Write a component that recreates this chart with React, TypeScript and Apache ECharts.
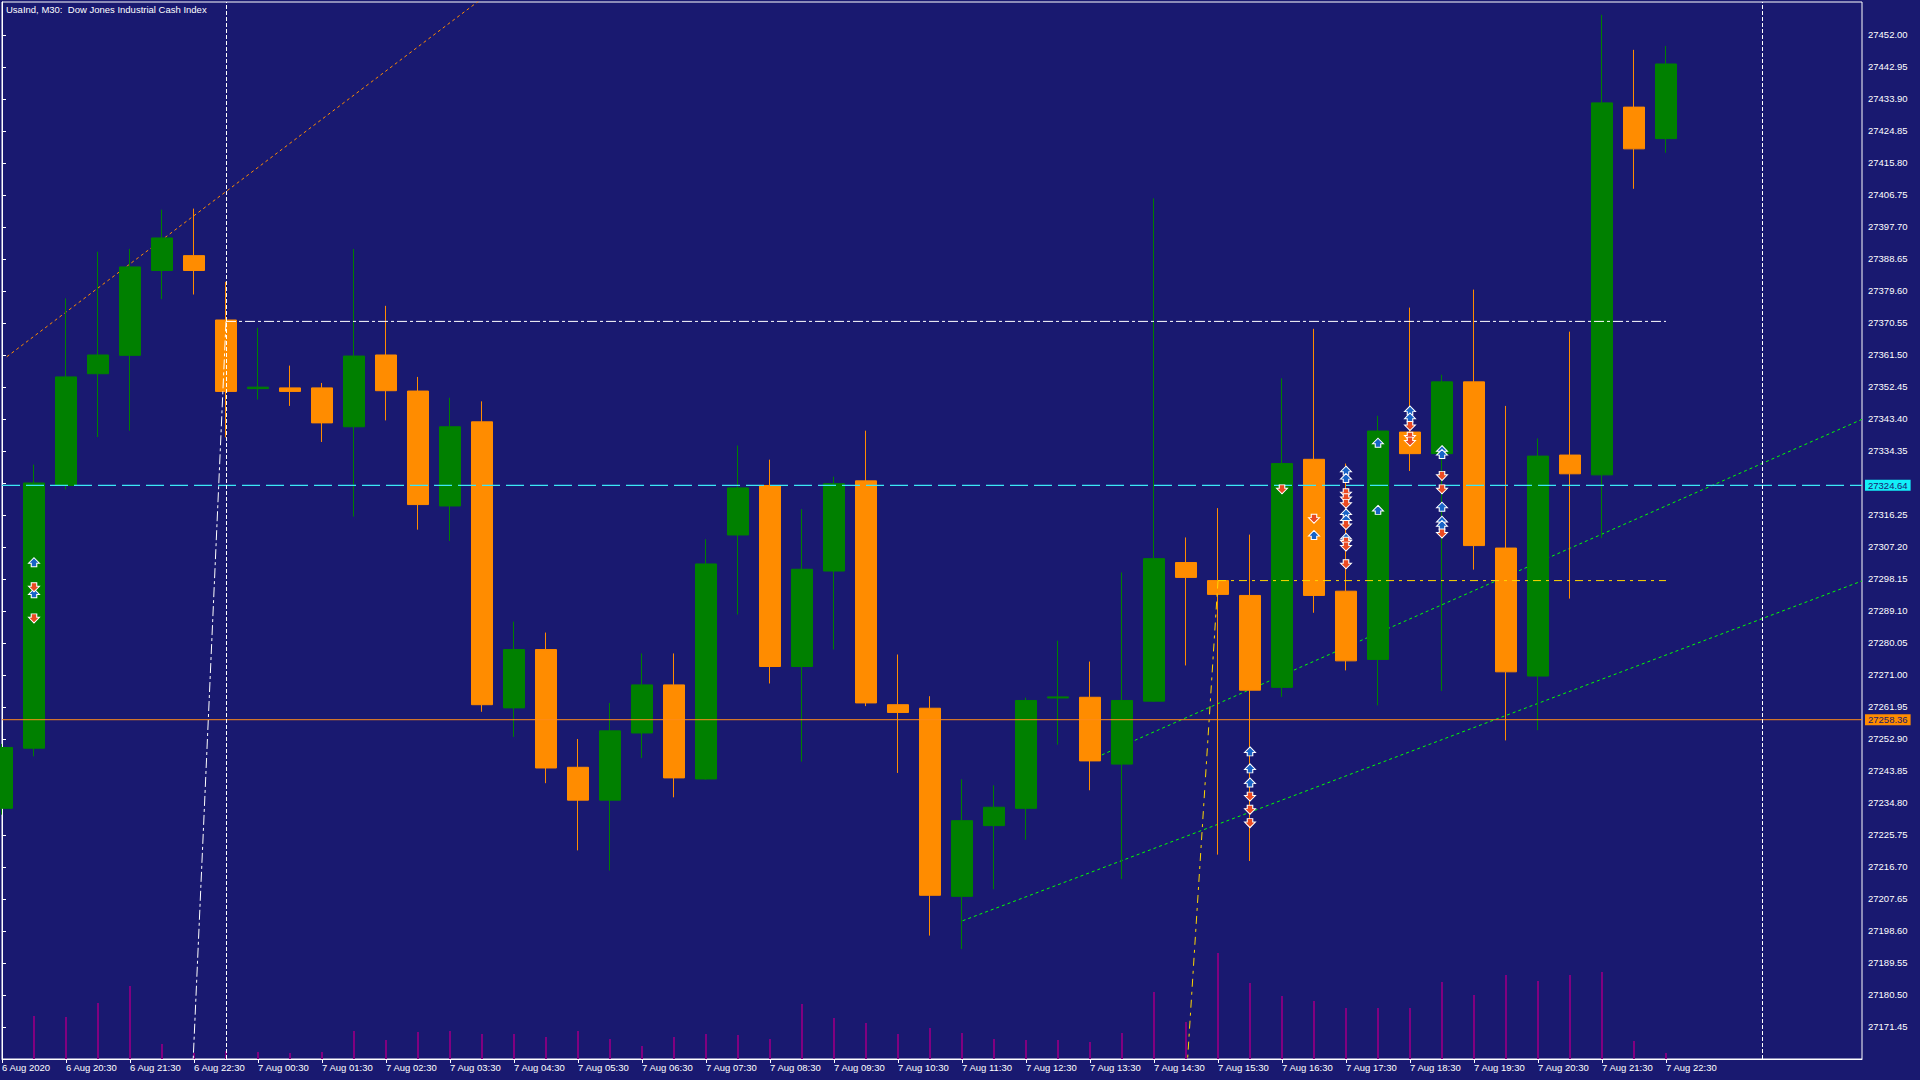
import React, { useEffect, useRef } from "react";
import * as echarts from "echarts";

// ---------- DATA ----------
const titleText = "UsaInd, M30:  Dow Jones Industrial Cash Index";

// one label every second M30 bar (bar index = 2 * label index)
const xLabels = [
  "6 Aug 2020", "6 Aug 20:30", "6 Aug 21:30", "6 Aug 22:30", "7 Aug 00:30",
  "7 Aug 01:30", "7 Aug 02:30", "7 Aug 03:30", "7 Aug 04:30", "7 Aug 05:30",
  "7 Aug 06:30", "7 Aug 07:30", "7 Aug 08:30", "7 Aug 09:30", "7 Aug 10:30",
  "7 Aug 11:30", "7 Aug 12:30", "7 Aug 13:30", "7 Aug 14:30", "7 Aug 15:30",
  "7 Aug 16:30", "7 Aug 17:30", "7 Aug 18:30", "7 Aug 19:30", "7 Aug 20:30",
  "7 Aug 21:30", "7 Aug 22:30",
];

const yTickLabels = [
  "27452.00", "27442.95", "27433.90", "27424.85", "27415.80", "27406.75",
  "27397.70", "27388.65", "27379.60", "27370.55", "27361.50", "27352.45",
  "27343.40", "27334.35", "27325.30", "27316.25", "27307.20", "27298.15",
  "27289.10", "27280.05", "27271.00", "27261.95", "27252.90", "27243.85",
  "27234.80", "27225.75", "27216.70", "27207.65", "27198.60", "27189.55",
  "27180.50", "27171.45",
];

const opens = [
  27233.3, 27250.3, 27324.6, 27356.2, 27361.4, 27385.4, 27389.6, 27371.4, 27352.0, 27352.2,
  27352.2, 27341.2, 27361.5, 27351.3, 27318.8, 27342.6, 27261.7, 27278.2, 27244.9, 27235.6,
  27254.6, 27268.2, 27241.6, 27310.6, 27324.6, 27273.4, 27300.4, 27325.9, 27262.6, 27261.6,
  27208.4, 27228.4, 27233.3, 27264.5, 27264.7, 27245.8, 27263.6, 27302.8, 27297.7, 27293.5,
  27267.5, 27332.0, 27294.7, 27275.4, 27339.7, 27333.6, 27353.9, 27306.9, 27270.7, 27333.2,
  27327.6, 27431.6, 27422.7,
];
const closes = [
  27250.5, 27325.3, 27355.3, 27361.5, 27386.4, 27394.6, 27385.4, 27351.2, 27352.4, 27351.2,
  27342.3, 27361.2, 27351.4, 27319.2, 27341.2, 27262.6, 27278.2, 27244.7, 27235.6, 27255.2,
  27268.2, 27241.9, 27302.4, 27323.9, 27273.4, 27300.9, 27325.1, 27263.1, 27260.4, 27208.7,
  27229.8, 27233.6, 27263.8, 27264.8, 27246.7, 27263.8, 27303.9, 27298.6, 27293.8, 27266.7,
  27330.8, 27293.5, 27275.0, 27340.0, 27333.6, 27353.9, 27307.6, 27271.9, 27332.9, 27327.9,
  27432.8, 27419.8, 27443.8,
];
const lows = [
  27231.5, 27248.0, 27323.5, 27338.3, 27340.1, 27377.3, 27378.6, 27338.2, 27348.9, 27347.1,
  27336.9, 27315.8, 27343.0, 27312.1, 27308.9, 27260.6, 27253.5, 27240.4, 27221.4, 27215.7,
  27247.5, 27236.4, 27241.4, 27288.1, 27268.6, 27246.5, 27278.2, 27262.2, 27243.3, 27197.3,
  27193.5, 27210.4, 27224.4, 27251.3, 27238.4, 27213.3, 27263.4, 27273.7, 27220.2, 27218.4,
  27264.8, 27288.6, 27272.3, 27262.4, 27328.7, 27266.5, 27300.8, 27252.5, 27255.4, 27292.6,
  27309.7, 27408.5, 27418.7,
];
const highs = [
  27251.5, 27330.5, 27377.5, 27390.7, 27391.5, 27402.6, 27402.9, 27382.2, 27369.2, 27358.5,
  27353.6, 27391.5, 27375.4, 27355.3, 27349.4, 27348.4, 27286.1, 27283.0, 27252.9, 27263.1,
  27277.1, 27277.1, 27309.4, 27335.9, 27331.9, 27317.9, 27327.1, 27340.1, 27276.8, 27265.0,
  27241.5, 27239.8, 27264.6, 27280.7, 27274.8, 27300.0, 27405.8, 27309.9, 27318.2, 27310.7,
  27354.9, 27368.9, 27330.8, 27344.3, 27374.9, 27355.9, 27380.0, 27347.1, 27337.9, 27368.1,
  27457.7, 27447.8, 27448.9,
];
// tick volumes (relative bar heights)
const volumes = [
  0, 43, 42, 56, 73, 15, 6, 8, 7, 6,
  7, 28, 19, 27, 28, 25, 25, 22, 28, 20,
  13, 22, 25, 24, 20, 55, 41, 36, 25, 31,
  26, 20, 19, 19, 17, 26, 67, 37, 106, 76,
  63, 58, 51, 51, 51, 77, 64, 84, 78, 84,
  87, 18, 6,
];

// trade arrows: [bar index, price]
const buyMarks = [
  [1, 27302.9], [1, 27294.1],
  [39, 27249.4], [39, 27244.6], [39, 27240.6],
  [41, 27310.6],
  [42, 27328.8], [42, 27326.7], [42, 27316.7], [42, 27315.0], [42, 27309.8],
  [43, 27336.7], [43, 27317.7],
  [44, 27345.8], [44, 27343.8],
  [45, 27334.6], [45, 27333.5], [45, 27318.6], [45, 27314.6], [45, 27313.4],
];
const sellMarks = [
  [1, 27295.8], [1, 27287.0],
  [39, 27236.6], [39, 27232.9], [39, 27229.1],
  [40, 27323.5],
  [41, 27315.2],
  [42, 27322.4], [42, 27321.0], [42, 27319.4], [42, 27313.4], [42, 27308.7], [42, 27307.3], [42, 27302.3],
  [44, 27341.4], [44, 27338.4], [44, 27337.0],
  [45, 27327.3], [45, 27323.5], [45, 27311.0],
];

// drawn objects: [bar index, price]
const upperChannel = [[34.37, 27248.4], [58.125, 27343.3]];
const lowerChannel = [[30.02, 27201.5], [58.125, 27297.6]];
const orangeTrend = [[0.15, 27361.0], [15.0, 27462.3]];
const whiteLevel = [[7, 27371.0], [52, 27371.0]];
const whiteRay = [[7, 27371.0], [5.975, 27162.4]];
const yellowLevel = [[38, 27297.7], [52, 27297.7]];
const yellowRay = [[38, 27297.7], [37.05, 27162.4]];
const verticalLines = [7, 55];
const bidPrice = 27324.64;
const askPrice = 27258.36;

const yMin = 27162.4;
const yMax = 27461.33;
const xMax = 58.125;

// ---------- OPTION ----------
const FONT = "'Liberation Sans', Arial, sans-serif";
const BG = "#191970";
const CYAN = "#3CE8F5";
const TAG_CYAN = "#12F0F8";
const ORANGE = "#FF8C00";

function buildOption(): any {
  const candleData = opens.map((o, i) => [i, o, closes[i], lows[i], highs[i]]);
  const volData = volumes.map((v, i) => [i, v]);
  const xTickPos = xLabels.map((_, k) => k * 2);
  const yTickVals = yTickLabels.map(Number);

  const trend = (data: number[][], color: string, type: any, z = 1, width = 1) => ({
    type: "line",
    data,
    xAxisIndex: 0,
    yAxisIndex: 0,
    showSymbol: false,
    symbol: "none",
    silent: true,
    z,
    lineStyle: { color, width, type, opacity: 1 },
  });

  const marker = (data: number[][], symbol: string, color: string) => ({
    type: "scatter",
    data,
    xAxisIndex: 0,
    yAxisIndex: 0,
    symbol,
    symbolSize: [11, 9],
    silent: true,
    z: 6,
    itemStyle: { color, borderColor: "#ffffff", borderWidth: 1, opacity: 1 },
  });

  const priceTag = (value: number, bg: string) => ({
    yAxis: value,
    lineStyle: { color: "rgba(0,0,0,0)", width: 1 },
    label: {
      show: true,
      position: "end",
      distance: 3,
      formatter: value.toFixed(2),
      color: BG,
      backgroundColor: bg,
      padding: [1, 3, 0, 3],
      fontSize: 9.5,
      fontFamily: FONT,
      opacity: 1,
    },
  });

  return {
    animation: false,
    backgroundColor: BG,
    title: {
      text: titleText,
      left: 6,
      top: 4,
      padding: 0,
      textStyle: { color: "#ffffff", fontSize: 9.5, fontWeight: "normal", fontFamily: FONT },
    },
    grid: {
      left: 2,
      right: 58,
      top: 2,
      bottom: 21,
      show: true,
      borderColor: "#ffffff",
      borderWidth: 1,
      backgroundColor: "transparent",
      containLabel: false,
      outerBoundsMode: "none",
    },
    xAxis: [
      {
        type: "value",
        min: 0,
        max: xMax,
        position: "bottom",
        axisLine: { show: true, lineStyle: { color: "#ffffff", width: 1 } },
        axisTick: {
          show: true,
          inside: false,
          length: 4,
          lineStyle: { color: "#ffffff" },
          customValues: xTickPos,
        },
        axisLabel: {
          show: true,
          color: "#ffffff",
          fontSize: 9.5,
          fontFamily: FONT,
          align: "left",
          margin: 3,
          customValues: xTickPos,
          showMinLabel: true,
          showMaxLabel: true,
          formatter: (v: number) => {
            const k = Math.round(v / 2);
            return Math.abs(v - k * 2) < 1e-6 && xLabels[k] ? xLabels[k] : "";
          },
        },
        splitLine: { show: false },
      },
    ],
    yAxis: [
      {
        type: "value",
        position: "right",
        min: yMin,
        max: yMax,
        axisLine: { show: true, lineStyle: { color: "#ffffff", width: 1 } },
        axisTick: {
          show: true,
          inside: false,
          length: 4,
          lineStyle: { color: "#ffffff" },
          customValues: yTickVals,
        },
        axisLabel: {
          show: true,
          color: "#ffffff",
          fontSize: 9.5,
          fontFamily: FONT,
          align: "left",
          margin: 6,
          customValues: yTickVals,
          showMinLabel: true,
          showMaxLabel: true,
          formatter: (v: number) => {
            const idx = yTickVals.findIndex((t) => Math.abs(t - v) < 1e-3);
            return idx >= 0 ? yTickLabels[idx] : "";
          },
        },
        splitLine: { show: false },
      },
      {
        type: "value",
        min: 0,
        max: 1057,
        show: false,
        splitLine: { show: false },
      },
    ],
    series: [
      trend(upperChannel, "#00FF00", [3, 3], 1),
      trend(lowerChannel, "#00FF00", [3, 3], 1),
      trend(orangeTrend, ORANGE, [3, 3], 1),
      {
        type: "candlestick",
        data: candleData,
        xAxisIndex: 0,
        yAxisIndex: 0,
        barWidth: 22,
        silent: true,
        z: 2,
        itemStyle: {
          color: "#008000",
          color0: ORANGE,
          borderColor: "#008000",
          borderColor0: ORANGE,
          borderWidth: 1,
        },
        markLine: {
          silent: true,
          symbol: ["none", "none"],
          animation: false,
          z: 7,
          data: [
            priceTag(bidPrice, TAG_CYAN),
            priceTag(askPrice, ORANGE),
            ...verticalLines.map((x) => ({
              xAxis: x,
              lineStyle: { color: "#ffffff", width: 1, type: [4, 2], opacity: 1 },
              label: { show: false },
            })),
          ],
        },
      },
      trend([[0, bidPrice], [xMax, bidPrice]], CYAN, [18, 6], 5, 1.2),
      trend([[0, askPrice], [xMax, askPrice]], "#FF8C1A", "solid", 5),
      trend(whiteLevel, "#ffffff", [10, 3, 3, 3], 4),
      trend(whiteRay, "#ffffff", [10, 3, 3, 3], 4),
      trend(yellowLevel, "#FFD700", [8, 5, 3, 5], 4),
      trend(yellowRay, "#FFD700", [8, 5, 3, 5], 4),
      {
        type: "bar",
        data: volData,
        xAxisIndex: 0,
        yAxisIndex: 1,
        barWidth: 2,
        silent: true,
        z: 3,
        itemStyle: { color: "#800080" },
      },
      marker(buyMarks, "path://M5,0L10,5L7.5,5L7.5,8L2.5,8L2.5,5L0,5Z", "#1763C6"),
      marker(sellMarks, "path://M2.5,0L7.5,0L7.5,3L10,3L5,8L0,3L2.5,3Z", "#EA4A22"),
    ],
  };
}

export default function App() {
  const ref = useRef<HTMLDivElement>(null);
  useEffect(() => {
    if (!ref.current) return;
    const chart = echarts.init(ref.current, null, { renderer: "svg" });
    chart.setOption(buildOption());
    return () => chart.dispose();
  }, []);
  return (
    <div
      ref={ref}
      style={{
        position: "fixed",
        left: 0,
        top: 0,
        width: 1920,
        height: 1080,
        background: BG,
      }}
    />
  );
}
